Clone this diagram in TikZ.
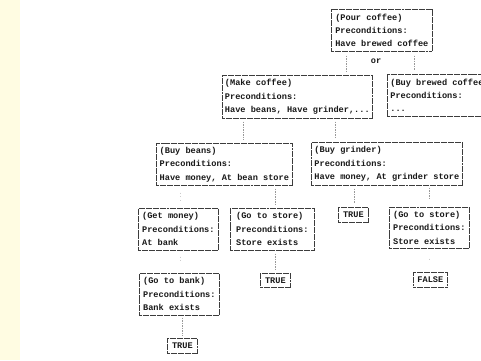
\documentclass[tikz,border=0pt]{standalone}
\usepackage{fontspec}
\setmonofont{Liberation Mono}
\definecolor{strip}{RGB}{255,252,226}
\definecolor{ink}{RGB}{25,25,25}
\tikzset{
  box/.style={draw=ink!85, line width=0.7pt, dash pattern=on 3pt off 0.5pt,
    rectangle, anchor=north west, inner xsep=2bp, inner ysep=0bp, align=left, text=ink,
    font=\fontsize{8.65}{13.5}\selectfont\ttfamily\bfseries},
  smallbox/.style={box, align=center, inner xsep=1bp},
  conn/.style={draw=gray!80, line width=0.5pt, dash pattern=on 1.5pt off 1pt},
  faint/.style={draw=gray!40, line width=0.5pt, dash pattern=on 0.8pt off 3pt},
}
\begin{document}
\begin{tikzpicture}[x=1bp, y=-1bp]
\useasboundingbox (0,0) rectangle (481,360);
\clip (0,0) rectangle (481,360);
\fill[white] (0,0) rectangle (481,360);
\fill[strip] (0,0) rectangle (20,360);

\node[box, minimum width=101bp, minimum height=42bp] (pour) at (331,9) {(Pour coffee)\\Preconditions:\\Have brewed coffee};
\node[box, minimum width=150bp, minimum height=43bp] (make) at (222,75) {(Make coffee)\\Preconditions:\\Have beans, Have grinder,...};
\node[box, inner xsep=3bp, minimum height=42bp] (brewed) at (387,74) {(Buy brewed coffee)\\Preconditions:\\...};
\node[box, minimum width=136bp, minimum height=42bp] (beans) at (156,143) {(Buy beans)\\Preconditions:\\Have money, At bean store};
\node[box, minimum width=151bp, minimum height=43bp] (grinder) at (311,142) {(Buy grinder)\\Preconditions:\\Have money, At grinder store};
\node[box, minimum width=80bp, minimum height=42bp] (money) at (138,208) {(Get money)\\Preconditions:\\At bank};
\node[box, minimum width=84bp, minimum height=42bp] (storeA) at (230,208) {(Go to store)\\Preconditions:\\Store exists};
\node[box, minimum width=80bp, minimum height=42bp] (bank) at (139,273) {(Go to bank)\\Preconditions:\\Bank exists};
\node[box, minimum width=80bp, minimum height=41bp] (storeB) at (389,207) {(Go to store)\\Preconditions:\\Store exists};
\node[smallbox, minimum width=30bp, minimum height=15bp] (trueA) at (167,338) {TRUE};
\node[smallbox, minimum width=30bp, minimum height=14bp] (trueB) at (260,273) {TRUE};
\node[smallbox, minimum width=30bp, minimum height=15bp] (trueC) at (338,207) {TRUE};
\node[smallbox, minimum width=34bp, minimum height=15bp] (false) at (413,272) {FALSE};

\node[font=\fontsize{8.65}{10}\selectfont\ttfamily\bfseries, text=ink] (or) at (376,61) {or};

\coordinate (x346) at (346,0);
\coordinate (x414) at (414,0);
\coordinate (x243) at (243,0);
\coordinate (x335) at (335,0);
\coordinate (x180) at (180,0);
\coordinate (x275) at (275,0);
\coordinate (x354) at (354,0);
\coordinate (x429) at (429,0);
\coordinate (x182) at (182,0);

\draw[conn, shorten <=4bp, shorten >=4bp] (pour.south -| x346) -- (make.north -| x346);
\draw[conn, shorten <=4bp, shorten >=4bp] (pour.south -| x414) -- (brewed.north -| x414);
\draw[conn, shorten <=3bp, shorten >=3bp] (make.south -| x243) -- (beans.north -| x243);
\draw[conn, shorten <=3bp, shorten >=3bp] (make.south -| x335) -- (grinder.north -| x335);
\draw[faint, shorten <=7bp, shorten >=6bp] (beans.south -| x180) -- (money.north -| x180);
\draw[conn, shorten <=3bp, shorten >=3bp] (beans.south -| x275) -- (storeA.north -| x275);
\draw[faint, shorten <=6bp, shorten >=9bp] (money.south -| x180) -- (bank.north -| x180);
\draw[conn, shorten <=2bp, shorten >=2bp] (bank.south -| x182) -- (trueA.north -| x182);
\draw[conn, shorten <=3bp, shorten >=3bp] (storeA.south -| x275) -- (trueB.north -| x275);
\draw[conn, shorten <=3bp, shorten >=4bp] (grinder.south -| x354) -- (trueC.north -| x354);
\draw[conn, shorten <=2bp, shorten >=8bp] (grinder.south -| x429) -- (storeB.north -| x429);
\draw[faint, shorten <=10bp, shorten >=10bp] (storeB.south -| x429) -- (false.north -| x429);
\end{tikzpicture}
\end{document}
